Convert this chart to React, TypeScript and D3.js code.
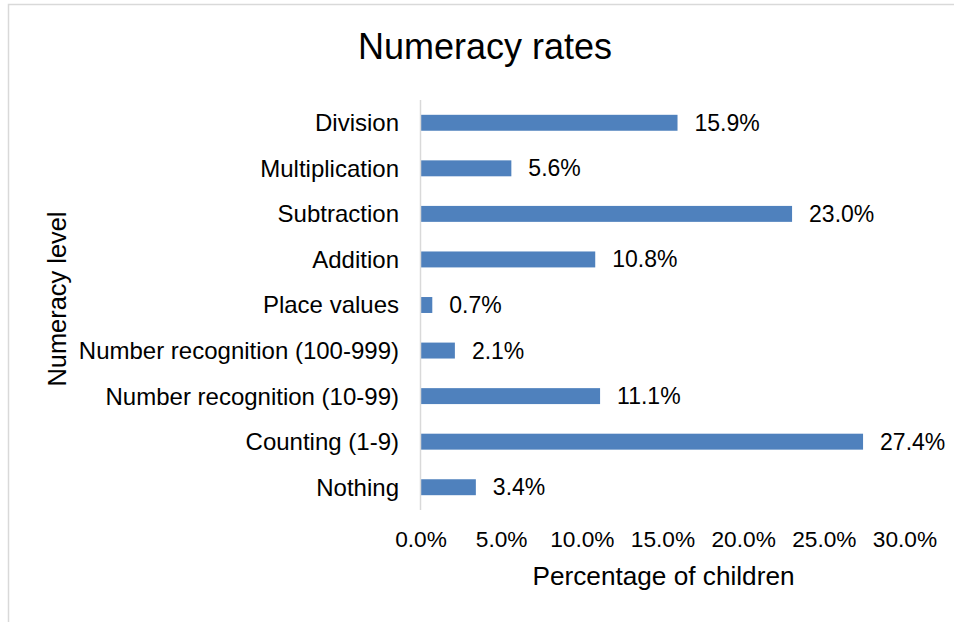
import React from "react";
import * as d3 from "d3";

const categories = [
  "Division",
  "Multiplication",
  "Subtraction",
  "Addition",
  "Place values",
  "Number recognition (100-999)",
  "Number recognition (10-99)",
  "Counting (1-9)",
  "Nothing",
];
const values = [15.9, 5.6, 23.0, 10.8, 0.7, 2.1, 11.1, 27.4, 3.4];
const tickValues = [0, 5, 10, 15, 20, 25, 30];

const W = 954;
const H = 622;
const FONT = "'Liberation Sans', Arial, sans-serif";

export default function App() {
  const x = d3.scaleLinear().domain([0, 30]).range([421, 905]);
  const y = d3
    .scaleBand<string>()
    .domain(categories)
    .range([100, 510])
    .paddingInner(0.65)
    .paddingOuter(0.325);
  const fmt = (v: number) => d3.format(".1f")(v) + "%";

  return (
    <svg
      width={W}
      height={H}
      style={{ position: "absolute", left: 0, top: 0, background: "#fff" }}
      fontFamily={FONT}
    >
      <rect x={8.5} y={4.5} width={2000} height={2000} fill="#fff" stroke="#d9d9d9" strokeWidth={1.5} />
      <text x={485} y={59} textAnchor="middle" fontSize={36} fill="#000">
        Numeracy rates
      </text>
      {categories.map((c, i) => (
        <g key={c}>
          <rect
            x={x(0)}
            y={y(c)!}
            width={x(values[i]) - x(0)}
            height={y.bandwidth()}
            fill="#4f81bd"
          />
          <text
            x={399}
            y={y(c)! + y.bandwidth() / 2}
            dy="0.35em"
            textAnchor="end"
            fontSize={24}
            fill="#000"
          >
            {c}
          </text>
          <text
            x={x(values[i]) + 17}
            y={y(c)! + y.bandwidth() / 2}
            dy="0.35em"
            textAnchor="start"
            fontSize={23}
            fill="#000"
          >
            {fmt(values[i])}
          </text>
        </g>
      ))}
      <line x1={420.5} x2={420.5} y1={100} y2={510} stroke="#d9d9d9" strokeWidth={1.5} />
      {tickValues.map((t) => (
        <text key={t} x={x(t)} y={547} textAnchor="middle" fontSize={22.7} fill="#000">
          {fmt(t)}
        </text>
      ))}
      <text x={663.5} y={585} textAnchor="middle" fontSize={26.2} fill="#000">
        Percentage of children
      </text>
      <text
        transform={`translate(66,299) rotate(-90)`}
        textAnchor="middle"
        fontSize={25.4}
        fill="#000"
      >
        Numeracy level
      </text>
    </svg>
  );
}
